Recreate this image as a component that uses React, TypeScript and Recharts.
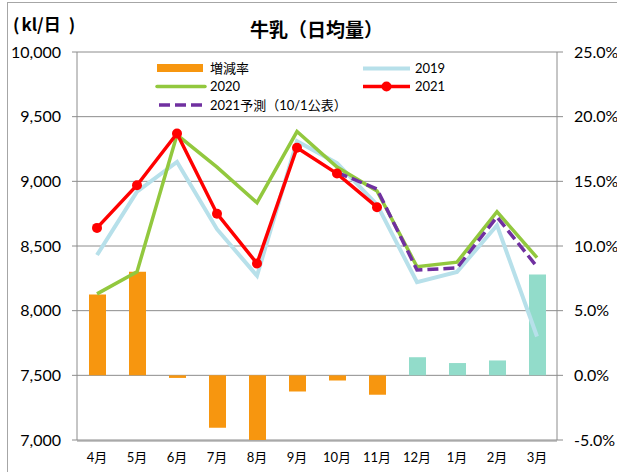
import React from 'react';
import { ComposedChart, Bar, Line, XAxis, YAxis, CartesianGrid, Cell } from 'recharts';

const months = ['4月', '5月', '6月', '7月', '8月', '9月', '10月', '11月', '12月', '1月', '2月', '3月'];
const y2019 = [8430, 8920, 9150, 8630, 8270, 9310, 9140, 8820, 8220, 8300, 8660, 7800];
const y2020 = [8130, 8300, 9360, 9110, 8835, 9385, 9110, 8925, 8340, 8375, 8765, 8410];
const y2021: (number | null)[] = [8640, 8970, 9370, 8750, 8365, 9260, 9060, 8800, null, null, null, null];
const forecast2021: (number | null)[] = [null, null, null, null, null, null, 9070, 8940, 8315, 8330, 8725, 8340];
const changeRate = [6.25, 8.0, -0.2, -4.05, -5.1, -1.25, -0.4, -1.5, 1.4, 0.95, 1.15, 7.8];
const leftTicks = [7000, 7500, 8000, 8500, 9000, 9500, 10000];
const rightTicks = [-5, 0, 5, 10, 15, 20, 25];
const boundaryTicks = [0, 1, 2, 3, 4, 5, 6, 7, 8, 9, 10, 11, 12];

const data = months.map((m, i) => ({
  month: m,
  y2019: y2019[i],
  y2020: y2020[i],
  y2021: y2021[i],
  forecast: forecast2021[i],
  rate: changeRate[i],
  isForecast: y2021[i] === null,
}));

const GRAY = '#8c8c8c';
const ORANGE = '#F7960F';
const TEAL = '#92DCCA';
const BLUE = '#B7E0EA';
const GREEN = '#92C83E';
const RED = '#FF0000';
const PURPLE = '#7030A0';
const NUM_FONT = "Lato, 'Noto Sans CJK JP', sans-serif";
const JP_FONT = "'Noto Sans CJK JP', sans-serif";

const Overlay = () => (
  <svg
    width={617}
    height={472}
    style={{ position: 'absolute', left: 0, top: 0, pointerEvents: 'none' }}
  >
    <rect x={7.5} y={2.5} width={700} height={600} fill="none" stroke="#a6a6a6" strokeWidth={1} />
    <text x={13} y={30.5} fontFamily={JP_FONT} fontWeight="bold" fontSize={17} fill="#000">
      (<tspan dx={2}>kl/日</tspan><tspan dx={8}>)</tspan>
    </text>
    <text x={250} y={37} fontFamily={JP_FONT} fontWeight="bold" fontSize={19} fill="#000">
      牛乳（日均量）
    </text>
    {/* legend */}
    <g fontFamily={NUM_FONT} fontSize={13} fill="#000">
      <rect x={157} y={64} width={46} height={8} fill={ORANGE} />
      <text x={210} y={72.5}>増減率</text>
      <line x1={363} y1={68.5} x2={410} y2={68.5} stroke={BLUE} strokeWidth={4} />
      <text x={415} y={73}>2019</text>
      <line x1={157} y1={86.5} x2={205} y2={86.5} stroke={GREEN} strokeWidth={3.5} strokeLinecap="round" />
      <text x={210} y={91}>2020</text>
      <line x1={363} y1={86.5} x2={410} y2={86.5} stroke={RED} strokeWidth={3.5} />
      <circle cx={386.5} cy={86.5} r={5} fill={RED} />
      <text x={415} y={91}>2021</text>
      <line x1={159} y1={105} x2={205} y2={105} stroke={PURPLE} strokeWidth={3.5} strokeDasharray="11 5" />
      <text x={210} y={109.5}>2021予測（10/1公表）</text>
    </g>
  </svg>
);

export default function App() {
  return (
    <div style={{ position: 'absolute', left: 0, top: 0, width: 617, height: 472, background: '#fff' }}>
      <ComposedChart
        width={617}
        height={472}
        data={data}
        margin={{ top: 52, right: 0, bottom: 30, left: 7 }}
      >
        <CartesianGrid yAxisId="left" vertical={false} stroke={GRAY} strokeWidth={1} />
        <XAxis
          xAxisId="edges"
          type="number"
          domain={[0, 12]}
          ticks={boundaryTicks}
          tick={false}
          height={1}
          tickSize={5}
          stroke={GRAY}
          allowDataOverflow
        />
        <XAxis
          dataKey="month"
          height={1}
          axisLine={false}
          tickLine={false}
          tickSize={0}
          tickMargin={13}
          interval={0}
          tick={{ fontSize: 13, fill: '#000', fontFamily: NUM_FONT }}
        />
        <YAxis
          yAxisId="left"
          width={70}
          domain={[7000, 10000]}
          ticks={leftTicks}
          interval={0}
          tickFormatter={(v: number) => v.toLocaleString('en-US')}
          tickSize={5}
          tickMargin={11}
          stroke={GRAY}
          tick={{ fontSize: 16, fill: '#000', fontFamily: NUM_FONT }}
          allowDataOverflow
        />
        <YAxis
          yAxisId="right"
          orientation="right"
          width={60}
          domain={[-5, 25]}
          ticks={rightTicks}
          interval={0}
          tickFormatter={(v: number) => `${v.toFixed(1)}%`}
          tickSize={6}
          tickMargin={11}
          stroke={GRAY}
          tick={{ fontSize: 16, fill: '#000', fontFamily: NUM_FONT, textAnchor: 'start' }}
          allowDataOverflow
        />
        <Bar dataKey="rate" yAxisId="right" barSize={17} isAnimationActive={false}>
          {data.map((d, i) => (
            <Cell key={i} fill={d.isForecast ? TEAL : ORANGE} />
          ))}
        </Bar>
        <Line type="linear" dataKey="y2019" yAxisId="left" stroke={BLUE} strokeWidth={4} dot={false} activeDot={false} isAnimationActive={false} />
        <Line type="linear" dataKey="y2020" yAxisId="left" stroke={GREEN} strokeWidth={3.5} dot={false} activeDot={false} isAnimationActive={false} />
        <Line
          type="linear"
          dataKey="y2021"
          yAxisId="left"
          stroke={RED}
          strokeWidth={3.5}
          dot={{ r: 5, fill: RED, stroke: RED, strokeWidth: 0 }}
          activeDot={false}
          isAnimationActive={false}
        />
        <Line
          type="linear"
          dataKey="forecast"
          yAxisId="left"
          stroke={PURPLE}
          strokeWidth={3.5}
          strokeDasharray="11 5"
          dot={false}
          activeDot={false}
          isAnimationActive={false}
        />
      </ComposedChart>
      <Overlay />
    </div>
  );
}
